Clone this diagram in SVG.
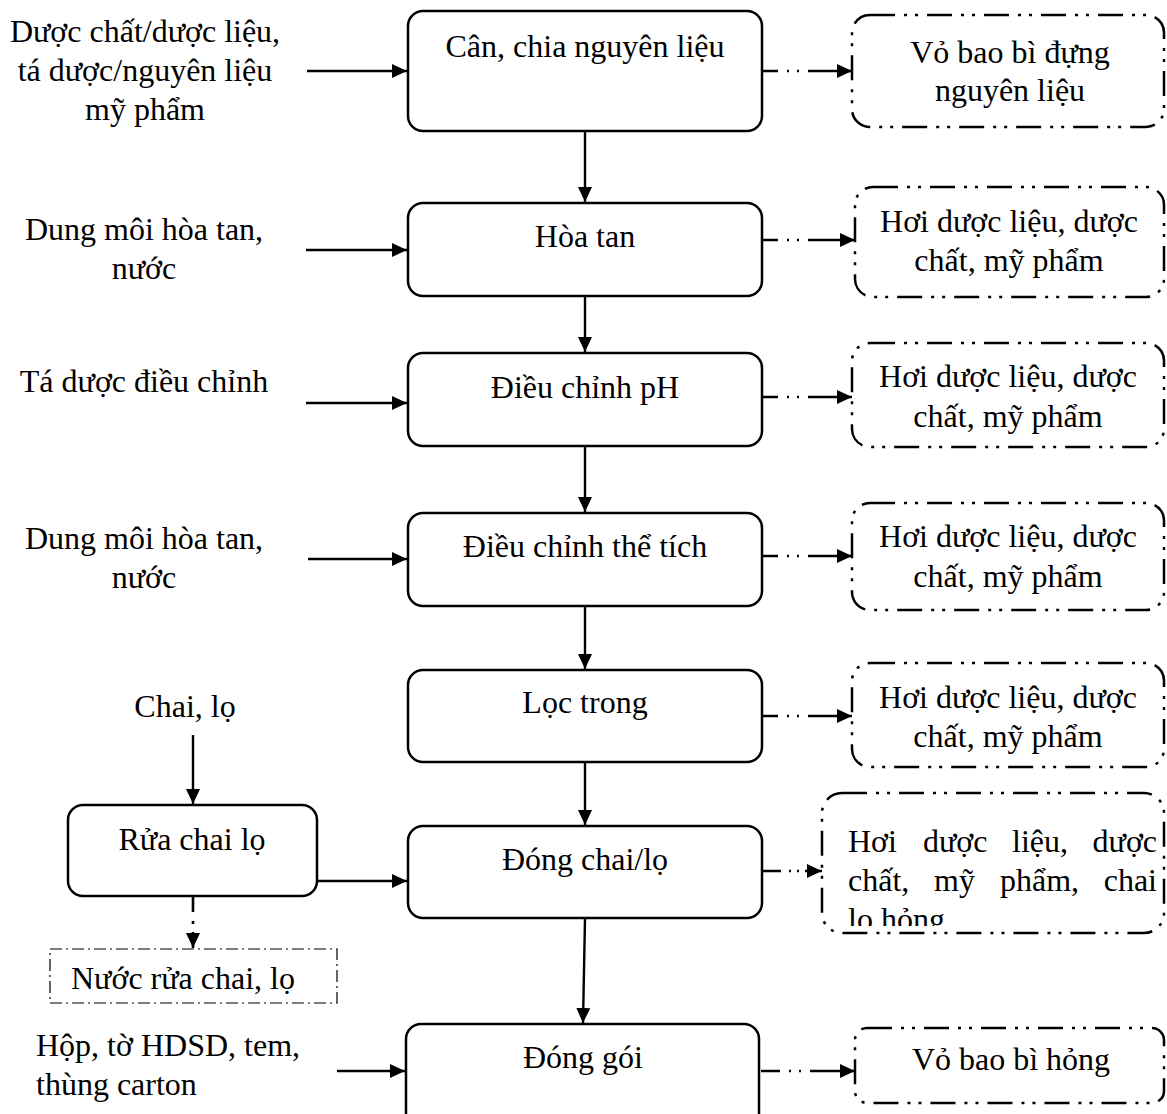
<svg xmlns="http://www.w3.org/2000/svg" width="1167" height="1114" viewBox="0 0 1167 1114">
<defs>
<style>
text{font-family:"Liberation Serif","Times New Roman",serif;font-size:32px;fill:#000}
.c{text-anchor:middle}
.e{text-anchor:end}
.step{fill:#fff;stroke:#000;stroke-width:2.5}
.waste{fill:#fff;stroke:#000;stroke-width:2.5;stroke-dasharray:25 9 3 8 3 9}
.thin{fill:#fff;stroke:#000;stroke-width:1.2;stroke-dasharray:12 4 2 4}
.ln{stroke:#000;stroke-width:2.4;fill:none;marker-end:url(#ah)}
.dl{stroke:#000;stroke-width:2.6;fill:none;marker-end:url(#ah);stroke-dasharray:15 9 2 8 2 9 80}
</style>
<marker id="ah" markerUnits="userSpaceOnUse" markerWidth="16" markerHeight="16" refX="15" refY="7" orient="auto" viewBox="0 0 16 14"><path d="M0,0 L15,7 L0,14 z" fill="#000"/></marker>
<clipPath id="clipR6"><rect x="820" y="790" width="347" height="136"/></clipPath>
</defs>
<rect width="1167" height="1114" fill="#fff"/>

<g id="connectors">
<path class="ln" d="M307,71 H407"/>
<path class="ln" d="M306,250 H407"/>
<path class="ln" d="M306,403 H407"/>
<path class="ln" d="M308,559 H407"/>
<path class="ln" d="M193,735 V804"/>
<path class="ln" d="M317,881 H407"/>
<path class="ln" d="M337,1071 H405"/>
<path class="ln" d="M585,131 V202"/>
<path class="ln" d="M585,296 V352"/>
<path class="ln" d="M585,446 V512"/>
<path class="ln" d="M585,606 V669"/>
<path class="ln" d="M585,762 V825"/>
<path class="ln" d="M585,918 L583,1023"/>
<path class="dl" d="M763,71 H852"/>
<path class="dl" d="M763,240 H855"/>
<path class="dl" d="M763,397 H852"/>
<path class="dl" d="M763,556 H852"/>
<path class="dl" d="M763,716 H852"/>
<path class="dl" style="stroke-dasharray:18 8 2 6 2 6 40" d="M763,871 H822"/>
<path class="dl" style="stroke-dasharray:19 9 2 8 2 9 80" d="M761,1071 H855"/>
<path class="dl" style="stroke-dasharray:15 9 3 8 40" d="M193,897 V948"/>
</g>

<g id="in1"><text class="c" x="145" y="42">Dược chất/dược liệu,</text><text class="c" x="145" y="81">tá dược/nguyên liệu</text><text class="c" x="145" y="120">mỹ phẩm</text></g>
<g id="in2"><text class="c" x="144" y="240">Dung môi hòa tan,</text><text class="c" x="144" y="279">nước</text></g>
<g id="in3"><text class="c" x="144" y="392">Tá dược điều chỉnh</text></g>
<g id="in4"><text class="c" x="144" y="549">Dung môi hòa tan,</text><text class="c" x="144" y="588">nước</text></g>
<g id="in5"><text class="c" x="185" y="717">Chai, lọ</text></g>
<g id="in6"><text x="36" y="1056">Hộp, tờ HDSD, tem,</text><text x="36" y="1095">thùng carton</text></g>

<g id="b1"><rect class="step" x="408" y="11" width="354" height="120" rx="15"/><text class="c" x="585" y="57">Cân, chia nguyên liệu</text></g>
<g id="b2"><rect class="step" x="408" y="203" width="354" height="93" rx="15"/><text class="c" x="585" y="247">Hòa tan</text></g>
<g id="b3"><rect class="step" x="408" y="353" width="354" height="93" rx="15"/><text class="c" x="585" y="398">Điều chỉnh pH</text></g>
<g id="b4"><rect class="step" x="408" y="513" width="354" height="93" rx="15"/><text class="c" x="585" y="557">Điều chỉnh thể tích</text></g>
<g id="b5"><rect class="step" x="408" y="670" width="354" height="92" rx="15"/><text class="c" x="585" y="713">Lọc trong</text></g>
<g id="b6"><rect class="step" x="408" y="826" width="354" height="92" rx="15"/><text class="c" x="585" y="870">Đóng chai/lọ</text></g>
<g id="b7"><rect class="step" x="406" y="1024" width="353" height="110" rx="15"/><text class="c" x="583" y="1068">Đóng gói</text></g>
<g id="rua"><rect class="step" x="68" y="805" width="249" height="91" rx="15"/><text class="c" x="192" y="850">Rửa chai lọ</text></g>
<g id="nuoc"><rect class="thin" x="50" y="949" width="287" height="54"/><text x="71" y="989">Nước rửa chai, lọ</text></g>

<g id="r1"><rect class="waste" x="852" y="15" width="312" height="112" rx="18"/><text class="c" x="1010" y="63">Vỏ bao bì đựng</text><text class="c" x="1010" y="101">nguyên liệu</text></g>
<g id="r2"><rect class="waste" x="855" y="187" width="309" height="110" rx="18"/><text class="c" x="1009" y="232">Hơi dược liệu, dược</text><text class="c" x="1009" y="271">chất, mỹ phẩm</text></g>
<g id="r3"><rect class="waste" x="852" y="343" width="312" height="104" rx="18"/><text class="c" x="1008" y="387">Hơi dược liệu, dược</text><text class="c" x="1008" y="427">chất, mỹ phẩm</text></g>
<g id="r4"><rect class="waste" x="852" y="503" width="312" height="107" rx="18"/><text class="c" x="1008" y="547">Hơi dược liệu, dược</text><text class="c" x="1008" y="587">chất, mỹ phẩm</text></g>
<g id="r5"><rect class="waste" x="852" y="663" width="312" height="104" rx="18"/><text class="c" x="1008" y="708">Hơi dược liệu, dược</text><text class="c" x="1008" y="747">chất, mỹ phẩm</text></g>
<g id="r6"><rect class="waste" x="822" y="793" width="342" height="140" rx="20"/>
<g clip-path="url(#clipR6)">
<text x="848" y="852">Hơi</text><text x="923" y="852">dược</text><text x="1012" y="852">liệu,</text><text class="e" x="1157" y="852">dược</text>
<text x="848" y="891">chất,</text><text x="934" y="891">mỹ</text><text x="1000" y="891">phẩm,</text><text class="e" x="1157" y="891">chai</text>
<text x="848" y="930">lọ hỏng</text>
</g></g>
<g id="r7"><rect class="waste" x="855" y="1028" width="309" height="75" rx="12"/><text class="c" x="1011" y="1070">Vỏ bao bì hỏng</text></g>
</svg>
